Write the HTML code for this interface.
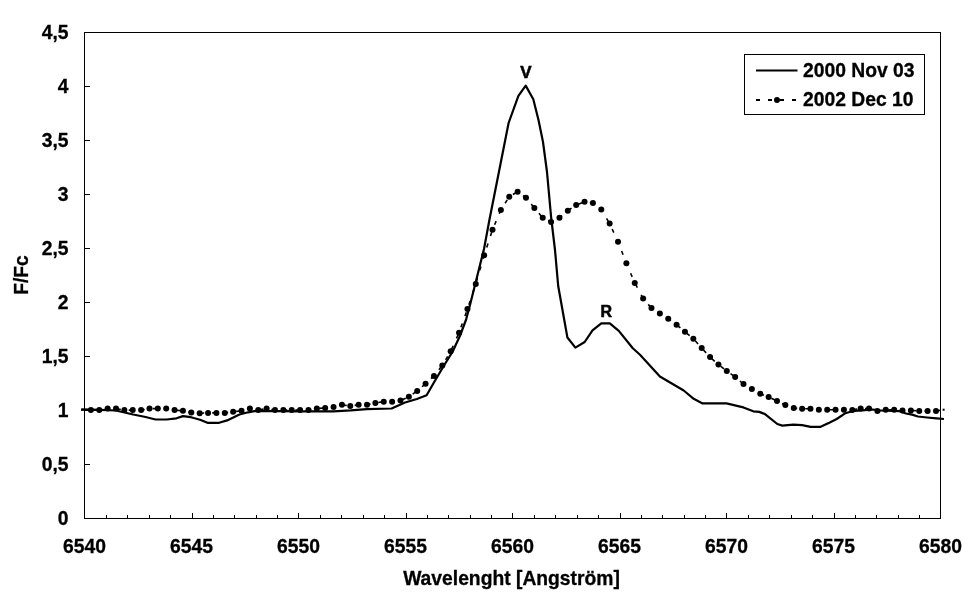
<!DOCTYPE html>
<html><head><meta charset="utf-8"><title>chart</title>
<style>
html,body{margin:0;padding:0;background:#fff;}
body{width:970px;height:604px;overflow:hidden;}
svg{display:block;will-change:transform;}
text{font-family:"Liberation Sans",sans-serif;font-weight:bold;fill:#000;stroke:#000;stroke-width:0.3px;}
</style></head><body>
<svg width="970" height="604" viewBox="0 0 970 604">
<rect width="970" height="604" fill="#fff"/>
<g shape-rendering="crispEdges" stroke="#000" stroke-width="1" fill="none">
<rect x="84.5" y="32.5" width="856.0" height="486.0"/>
<line x1="106.5" y1="518.5" x2="106.5" y2="515.0"/>
<line x1="127.5" y1="518.5" x2="127.5" y2="515.0"/>
<line x1="149.5" y1="518.5" x2="149.5" y2="515.0"/>
<line x1="170.5" y1="518.5" x2="170.5" y2="515.0"/>
<line x1="192.5" y1="518.5" x2="192.5" y2="513.0"/>
<line x1="213.5" y1="518.5" x2="213.5" y2="515.0"/>
<line x1="234.5" y1="518.5" x2="234.5" y2="515.0"/>
<line x1="256.5" y1="518.5" x2="256.5" y2="515.0"/>
<line x1="277.5" y1="518.5" x2="277.5" y2="515.0"/>
<line x1="298.5" y1="518.5" x2="298.5" y2="513.0"/>
<line x1="320.5" y1="518.5" x2="320.5" y2="515.0"/>
<line x1="341.5" y1="518.5" x2="341.5" y2="515.0"/>
<line x1="363.5" y1="518.5" x2="363.5" y2="515.0"/>
<line x1="384.5" y1="518.5" x2="384.5" y2="515.0"/>
<line x1="406.5" y1="518.5" x2="406.5" y2="513.0"/>
<line x1="427.5" y1="518.5" x2="427.5" y2="515.0"/>
<line x1="448.5" y1="518.5" x2="448.5" y2="515.0"/>
<line x1="470.5" y1="518.5" x2="470.5" y2="515.0"/>
<line x1="491.5" y1="518.5" x2="491.5" y2="515.0"/>
<line x1="512.5" y1="518.5" x2="512.5" y2="513.0"/>
<line x1="534.5" y1="518.5" x2="534.5" y2="515.0"/>
<line x1="555.5" y1="518.5" x2="555.5" y2="515.0"/>
<line x1="577.5" y1="518.5" x2="577.5" y2="515.0"/>
<line x1="598.5" y1="518.5" x2="598.5" y2="515.0"/>
<line x1="620.5" y1="518.5" x2="620.5" y2="513.0"/>
<line x1="641.5" y1="518.5" x2="641.5" y2="515.0"/>
<line x1="662.5" y1="518.5" x2="662.5" y2="515.0"/>
<line x1="684.5" y1="518.5" x2="684.5" y2="515.0"/>
<line x1="705.5" y1="518.5" x2="705.5" y2="515.0"/>
<line x1="726.5" y1="518.5" x2="726.5" y2="513.0"/>
<line x1="748.5" y1="518.5" x2="748.5" y2="515.0"/>
<line x1="769.5" y1="518.5" x2="769.5" y2="515.0"/>
<line x1="791.5" y1="518.5" x2="791.5" y2="515.0"/>
<line x1="812.5" y1="518.5" x2="812.5" y2="515.0"/>
<line x1="834.5" y1="518.5" x2="834.5" y2="513.0"/>
<line x1="855.5" y1="518.5" x2="855.5" y2="515.0"/>
<line x1="876.5" y1="518.5" x2="876.5" y2="515.0"/>
<line x1="898.5" y1="518.5" x2="898.5" y2="515.0"/>
<line x1="919.5" y1="518.5" x2="919.5" y2="515.0"/>
<line x1="84.5" y1="464.5" x2="90.0" y2="464.5"/>
<line x1="84.5" y1="410.5" x2="90.0" y2="410.5"/>
<line x1="84.5" y1="356.5" x2="90.0" y2="356.5"/>
<line x1="84.5" y1="302.5" x2="90.0" y2="302.5"/>
<line x1="84.5" y1="248.5" x2="90.0" y2="248.5"/>
<line x1="84.5" y1="194.5" x2="90.0" y2="194.5"/>
<line x1="84.5" y1="140.5" x2="90.0" y2="140.5"/>
<line x1="84.5" y1="86.5" x2="90.0" y2="86.5"/>
</g>
<text x="68.5" y="524.7" font-size="19.3" text-anchor="end">0</text>
<text x="68.5" y="470.7" font-size="19.3" text-anchor="end">0,5</text>
<text x="68.5" y="416.7" font-size="19.3" text-anchor="end">1</text>
<text x="68.5" y="362.7" font-size="19.3" text-anchor="end">1,5</text>
<text x="68.5" y="308.7" font-size="19.3" text-anchor="end">2</text>
<text x="68.5" y="254.7" font-size="19.3" text-anchor="end">2,5</text>
<text x="68.5" y="200.7" font-size="19.3" text-anchor="end">3</text>
<text x="68.5" y="146.7" font-size="19.3" text-anchor="end">3,5</text>
<text x="68.5" y="92.7" font-size="19.3" text-anchor="end">4</text>
<text x="68.5" y="38.7" font-size="19.3" text-anchor="end">4,5</text>
<text x="84.5" y="552.5" font-size="19.3" text-anchor="middle">6540</text>
<text x="191.5" y="552.5" font-size="19.3" text-anchor="middle">6545</text>
<text x="298.5" y="552.5" font-size="19.3" text-anchor="middle">6550</text>
<text x="405.5" y="552.5" font-size="19.3" text-anchor="middle">6555</text>
<text x="512.5" y="552.5" font-size="19.3" text-anchor="middle">6560</text>
<text x="619.5" y="552.5" font-size="19.3" text-anchor="middle">6565</text>
<text x="726.5" y="552.5" font-size="19.3" text-anchor="middle">6570</text>
<text x="833.5" y="552.5" font-size="19.3" text-anchor="middle">6575</text>
<text x="940.5" y="552.5" font-size="19.3" text-anchor="middle">6580</text>
<text x="511.5" y="585.1" font-size="19.3" text-anchor="middle">Wavelenght [Angström]</text>
<text transform="translate(27.7,275) rotate(-90)" font-size="19.3" text-anchor="middle">F/Fc</text>
<text x="525.8" y="77.6" font-size="17" style="stroke-width:0.55px" text-anchor="middle">V</text>
<text x="606.4" y="317" font-size="16" style="stroke-width:0.55px" text-anchor="middle">R</text>
<polyline points="81.2,409.4 100,409.8 115.9,410.5 133.2,414.5 145.6,417 155.5,419.5 166.6,419.5 176.5,418.3 183,416.1 191,417.2 200,419.7 207.5,422.8 219.1,422.8 227.1,420.4 239.5,414.5 248.1,412.3 255.6,410.8 300,411.4 333.4,411.4 350.7,410.4 366.8,409.1 391.6,408.5 405,402.5 416.9,399 426.6,395.3 434.8,381 443.7,366 452.7,351.5 460.1,335.5 466.1,319.5 470,305 477,277 484,249 489.2,221 499.3,170 508.6,123 518.4,95.8 525.7,85.6 533.3,99.2 538.5,120 543,142 547,172 551.2,218 555,250 558.2,286 567.4,337.5 575.4,347.6 584.7,342 592.5,330.4 601.3,323.4 609.8,323.4 618.8,330.9 632.8,348.3 640,354.7 659.9,376.5 683.7,390.5 693.7,398.8 702.6,403.4 726.5,403.4 743.4,407.4 753.3,411.3 759.3,411.9 765,414.1 777.3,424 782.3,425.6 793.4,424.6 802.1,425.2 810.7,426.8 820.6,426.8 829.3,422.7 836.7,419 845.4,413.2 854,410.8 862.4,410.3 872.3,409.5 879.7,410.4 899.5,411.2 906,413.5 912,414.6 918,416.5 927,417.5 936.6,418.4 944,419" fill="none" stroke="#000" stroke-width="2.2" stroke-linejoin="round"/>
<polyline points="81,410.0 90.9,410.1 99.27,410.1 107.63,408.6 116.0,408.6 124.37,410.1 132.74,410.1 141.1,410.1 149.47,408.6 157.84,408.6 166.2,408.6 174.57,410.1 182.94,410.8 191.3,412.6 199.67,413.2 208.04,412.9 216.41,412.9 224.77,412.9 233.14,411.7 241.51,410.8 249.87,408.4 258.24,410.1 266.61,408.6 274.97,410.1 283.34,410.1 291.71,410.1 300.08,410.1 308.44,410.0 316.81,408.5 325.18,407.9 333.54,407.0 341.91,404.8 350.28,406.0 358.64,404.8 367.01,404.8 375.38,402.9 383.75,401.7 392.11,401.7 400.48,400.5 408.85,396.8 417.21,390.9 425.58,383.8 433.95,375.9 442.31,365.5 450.68,351.3 459.05,332.7 467.42,309.1 475.78,283.9 484.15,255.3 492.52,229.7 500.88,209.9 509.25,196.7 517.62,191.8 525.98,197.7 534.35,207.9 542.72,217.8 551.09,222.0 559.45,217.8 567.82,210.7 576.19,205.0 584.55,201.7 592.92,203.0 601.29,209.6 609.65,223.6 618.02,241.8 626.39,263.2 634.75,282.9 643.12,298.4 651.49,308.1 659.86,313.5 668.22,318.8 676.59,324.8 684.96,331.7 693.32,338.7 701.69,348.1 710.06,357.1 718.43,364.6 726.79,371.0 735.16,376.9 743.53,384.1 751.89,388.9 760.26,393.8 768.63,397.0 776.99,401.0 785.36,405.0 793.73,408.0 802.1,408.8 810.46,408.8 818.83,409.7 827.2,409.7 835.56,409.7 843.93,409.7 852.3,410.0 860.66,408.5 869.03,408.5 877.4,411.0 885.77,409.7 894.13,409.7 902.5,410.4 910.87,410.4 919.23,411.0 927.6,411.0 935.97,411.0 944.3,409.7" fill="none" stroke="#000" stroke-width="1.6" stroke-dasharray="4 8"/>
<line x1="942.6" y1="409.7" x2="944.6" y2="409.7" stroke="#000" stroke-width="2"/>
<g fill="#000">
<circle cx="90.9" cy="410.1" r="3"/>
<circle cx="99.27" cy="410.1" r="3"/>
<circle cx="107.63" cy="408.6" r="3"/>
<circle cx="116.0" cy="408.6" r="3"/>
<circle cx="124.37" cy="410.1" r="3"/>
<circle cx="132.74" cy="410.1" r="3"/>
<circle cx="141.1" cy="410.1" r="3"/>
<circle cx="149.47" cy="408.6" r="3"/>
<circle cx="157.84" cy="408.6" r="3"/>
<circle cx="166.2" cy="408.6" r="3"/>
<circle cx="174.57" cy="410.1" r="3"/>
<circle cx="182.94" cy="410.8" r="3"/>
<circle cx="191.3" cy="412.6" r="3"/>
<circle cx="199.67" cy="413.2" r="3"/>
<circle cx="208.04" cy="412.9" r="3"/>
<circle cx="216.41" cy="412.9" r="3"/>
<circle cx="224.77" cy="412.9" r="3"/>
<circle cx="233.14" cy="411.7" r="3"/>
<circle cx="241.51" cy="410.8" r="3"/>
<circle cx="249.87" cy="408.4" r="3"/>
<circle cx="258.24" cy="410.1" r="3"/>
<circle cx="266.61" cy="408.6" r="3"/>
<circle cx="274.97" cy="410.1" r="3"/>
<circle cx="283.34" cy="410.1" r="3"/>
<circle cx="291.71" cy="410.1" r="3"/>
<circle cx="300.08" cy="410.1" r="3"/>
<circle cx="308.44" cy="410.0" r="3"/>
<circle cx="316.81" cy="408.5" r="3"/>
<circle cx="325.18" cy="407.9" r="3"/>
<circle cx="333.54" cy="407.0" r="3"/>
<circle cx="341.91" cy="404.8" r="3"/>
<circle cx="350.28" cy="406.0" r="3"/>
<circle cx="358.64" cy="404.8" r="3"/>
<circle cx="367.01" cy="404.8" r="3"/>
<circle cx="375.38" cy="402.9" r="3"/>
<circle cx="383.75" cy="401.7" r="3"/>
<circle cx="392.11" cy="401.7" r="3"/>
<circle cx="400.48" cy="400.5" r="3"/>
<circle cx="408.85" cy="396.8" r="3"/>
<circle cx="417.21" cy="390.9" r="3"/>
<circle cx="425.58" cy="383.8" r="3"/>
<circle cx="433.95" cy="375.9" r="3"/>
<circle cx="442.31" cy="365.5" r="3"/>
<circle cx="450.68" cy="351.3" r="3"/>
<circle cx="459.05" cy="332.7" r="3"/>
<circle cx="467.42" cy="309.1" r="3"/>
<circle cx="475.78" cy="283.9" r="3"/>
<circle cx="484.15" cy="255.3" r="3"/>
<circle cx="492.52" cy="229.7" r="3"/>
<circle cx="500.88" cy="209.9" r="3"/>
<circle cx="509.25" cy="196.7" r="3"/>
<circle cx="517.62" cy="191.8" r="3"/>
<circle cx="525.98" cy="197.7" r="3"/>
<circle cx="534.35" cy="207.9" r="3"/>
<circle cx="542.72" cy="217.8" r="3"/>
<circle cx="551.09" cy="222.0" r="3"/>
<circle cx="559.45" cy="217.8" r="3"/>
<circle cx="567.82" cy="210.7" r="3"/>
<circle cx="576.19" cy="205.0" r="3"/>
<circle cx="584.55" cy="201.7" r="3"/>
<circle cx="592.92" cy="203.0" r="3"/>
<circle cx="601.29" cy="209.6" r="3"/>
<circle cx="609.65" cy="223.6" r="3"/>
<circle cx="618.02" cy="241.8" r="3"/>
<circle cx="626.39" cy="263.2" r="3"/>
<circle cx="634.75" cy="282.9" r="3"/>
<circle cx="643.12" cy="298.4" r="3"/>
<circle cx="651.49" cy="308.1" r="3"/>
<circle cx="659.86" cy="313.5" r="3"/>
<circle cx="668.22" cy="318.8" r="3"/>
<circle cx="676.59" cy="324.8" r="3"/>
<circle cx="684.96" cy="331.7" r="3"/>
<circle cx="693.32" cy="338.7" r="3"/>
<circle cx="701.69" cy="348.1" r="3"/>
<circle cx="710.06" cy="357.1" r="3"/>
<circle cx="718.43" cy="364.6" r="3"/>
<circle cx="726.79" cy="371.0" r="3"/>
<circle cx="735.16" cy="376.9" r="3"/>
<circle cx="743.53" cy="384.1" r="3"/>
<circle cx="751.89" cy="388.9" r="3"/>
<circle cx="760.26" cy="393.8" r="3"/>
<circle cx="768.63" cy="397.0" r="3"/>
<circle cx="776.99" cy="401.0" r="3"/>
<circle cx="785.36" cy="405.0" r="3"/>
<circle cx="793.73" cy="408.0" r="3"/>
<circle cx="802.1" cy="408.8" r="3"/>
<circle cx="810.46" cy="408.8" r="3"/>
<circle cx="818.83" cy="409.7" r="3"/>
<circle cx="827.2" cy="409.7" r="3"/>
<circle cx="835.56" cy="409.7" r="3"/>
<circle cx="843.93" cy="409.7" r="3"/>
<circle cx="852.3" cy="410.0" r="3"/>
<circle cx="860.66" cy="408.5" r="3"/>
<circle cx="869.03" cy="408.5" r="3"/>
<circle cx="877.4" cy="411.0" r="3"/>
<circle cx="885.77" cy="409.7" r="3"/>
<circle cx="894.13" cy="409.7" r="3"/>
<circle cx="902.5" cy="410.4" r="3"/>
<circle cx="910.87" cy="410.4" r="3"/>
<circle cx="919.23" cy="411.0" r="3"/>
<circle cx="927.6" cy="411.0" r="3"/>
<circle cx="935.97" cy="411.0" r="3"/>
</g>
<rect x="744.5" y="54.5" width="180" height="60" fill="#fff" stroke="#000" stroke-width="1" shape-rendering="crispEdges"/>
<line x1="756" y1="70.5" x2="797.5" y2="70.5" stroke="#000" stroke-width="2"/>
<line x1="756" y1="100" x2="797.5" y2="100" stroke="#000" stroke-width="2" stroke-dasharray="4 8"/>
<line x1="780" y1="100" x2="784" y2="100" stroke="#000" stroke-width="2"/>
<circle cx="777" cy="100" r="3" fill="#000"/>
<text x="803" y="76.7" font-size="19.3">2000 Nov 03</text>
<text x="803" y="105.8" font-size="19.3">2002 Dec 10</text>
</svg>
</body></html>
